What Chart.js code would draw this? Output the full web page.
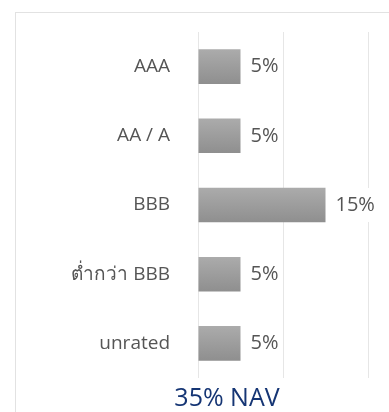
<!DOCTYPE html>
<html>
<head>
<meta charset="utf-8">
<script src="https://cdn.jsdelivr.net/npm/chart.js@4/dist/chart.umd.min.js"></script>
<style>
  html, body { margin: 0; padding: 0; background: #fff; overflow: hidden; }
  #wrap { position: relative; width: 389px; height: 412px; overflow: hidden; }
  #frame {
    position: absolute; left: 15px; top: 12px; width: 420px; height: 440px;
    border: 1px solid #e2e2e2; box-sizing: border-box;
  }
  #chart { position: absolute; left: 0; top: 0; }
  #total {
    position: absolute; left: 0; width: 454px; top: 379px; text-align: center;
    font-family: "Open Sans", "Noto Sans", sans-serif; font-size: 25px; color: #153574;
  }
</style>
</head>
<body>
<div id="wrap">
  <div id="frame"></div>
  <canvas id="chart" width="389" height="412"></canvas>
  <div id="total">35% NAV</div>
</div>
<script>
// สัดส่วนตามอันดับเครดิต (% ของ NAV)
const ratings = ['AAA', 'AA / A', 'BBB', 'ต่ำกว่า BBB', 'unrated'];
const weights = [5, 5, 15, 5, 5];
const axisMax = 20;
const axisStep = 10;

const font = '"Open Sans", "Noto Sans", sans-serif';

// แถบสีเทาไล่เฉด บนอ่อน ล่างเข้ม
function barFill(ctx) {
  const chart = ctx.chart;
  const y = chart.scales && chart.scales.y;
  if (!y || !chart.chartArea) return '#9c9c9c';
  const cy = y.getPixelForValue(ctx.dataIndex);
  const g = chart.ctx.createLinearGradient(0, cy - 17, 0, cy + 17);
  g.addColorStop(0, '#ababab');
  g.addColorStop(1, '#8f8f8f');
  return g;
}

// ตัวเลข % ท้ายแถบ (พื้นขาวบังเส้นกริด)
const valueLabels = {
  id: 'valueLabels',
  afterDatasetsDraw(chart) {
    const c = chart.ctx;
    const meta = chart.getDatasetMeta(0);
    c.save();
    c.font = '20px ' + font;
    c.textAlign = 'left';
    c.textBaseline = 'middle';
    meta.data.forEach((bar, i) => {
      const txt = weights[i] + '%';
      const w = c.measureText(txt).width;
      c.fillStyle = '#fff';
      c.fillRect(bar.x + 6, bar.y - 17, w + 8, 34);
      c.fillStyle = '#555';
      c.fillText(txt, bar.x + 10, bar.y);
    });
    c.restore();
  }
};

new Chart(document.getElementById('chart'), {
  type: 'bar',
  data: {
    labels: ratings,
    datasets: [{
      data: weights,
      backgroundColor: barFill,
      borderWidth: 0,
      categoryPercentage: 1,
      barPercentage: 0.5
    }]
  },
  options: {
    indexAxis: 'y',
    responsive: false,
    animation: false,
    layout: { padding: { top: 32, right: 21, bottom: 34, left: 0 } },
    plugins: { legend: { display: false }, tooltip: { enabled: false } },
    scales: {
      x: {
        min: 0,
        max: axisMax,
        ticks: { display: false, stepSize: axisStep },
        grid: { color: '#e6e6e6', drawTicks: false },
        border: { display: false },
        afterFit: scale => { scale.height = 0; }
      },
      y: {
        grid: { display: false, drawTicks: true, tickLength: 28 },
        border: { display: false },
        ticks: { color: '#555', font: { family: font, size: 19 }, padding: 0 },
        afterFit: scale => {
          scale.width = 198;
          scale.paddingTop = 0;
          scale.paddingBottom = 0;
        }
      }
    }
  },
  plugins: [valueLabels]
});
</script>
</body>
</html>
